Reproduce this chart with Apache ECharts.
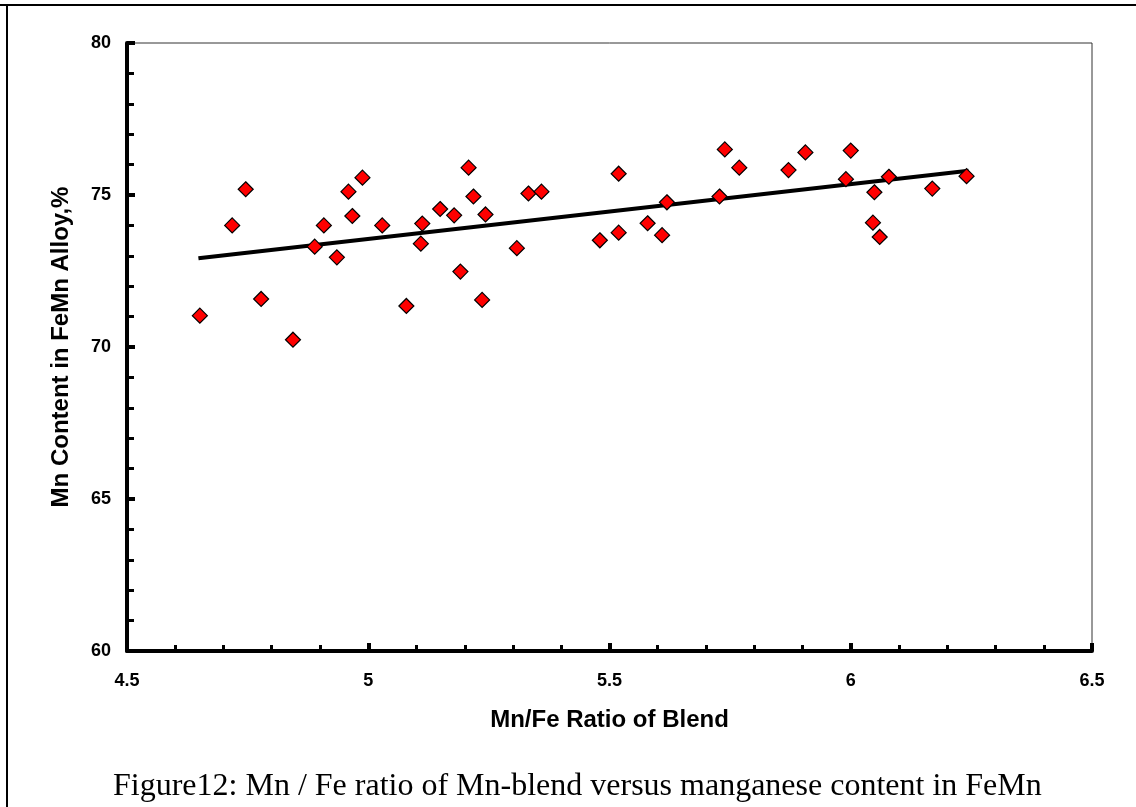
<!DOCTYPE html>
<html>
<head>
<meta charset="utf-8">
<script src="https://cdn.jsdelivr.net/npm/echarts@6/dist/echarts.min.js"></script>
<style>
  html, body { margin: 0; padding: 0; background: #fff; }
  #chart { width: 1136px; height: 807px; }
</style>
</head>
<body>
<div id="chart"></div>
<script>
// Data
const mnFeRatio = [4.651, 4.718, 4.746, 4.778, 4.844, 4.889, 4.908, 4.935, 4.959, 4.967,
  4.988, 5.029, 5.079, 5.109, 5.112, 5.149, 5.178, 5.191, 5.208, 5.218,
  5.236, 5.243, 5.308, 5.332, 5.359, 5.480, 5.519, 5.519, 5.579, 5.609,
  5.619, 5.728, 5.739, 5.769, 5.871, 5.906, 5.990, 6.000, 6.046, 6.049,
  6.060, 6.079, 6.169, 6.240];
const mnContent = [71.03, 74.00, 75.19, 71.58, 70.24, 73.30, 74.00, 72.95, 75.11, 74.31,
  75.57, 74.00, 71.35, 73.40, 74.06, 74.54, 74.33, 72.48, 75.90, 74.95,
  71.55, 74.36, 73.25, 75.05, 75.11, 73.51, 75.70, 73.76, 74.07, 73.68,
  74.76, 74.95, 76.50, 75.90, 75.82, 76.40, 75.52, 76.46, 74.09, 75.09,
  73.62, 75.60, 75.21, 75.62];
const trendX = [4.648, 6.244];
const trendY = [72.92, 75.80];
const xTitle = 'Mn/Fe Ratio of Blend';
const yTitle = 'Mn Content in FeMn Alloy,%';
const caption = 'Figure12: Mn / Fe ratio of Mn-blend versus manganese content in FeMn';

const scatterData = mnFeRatio.map((x, i) => [x, mnContent[i]]);
const trendData = trendX.map((x, i) => [x, trendY[i]]);

const chart = echarts.init(document.getElementById('chart'), null, { renderer: 'canvas' });
const labelFont = { fontFamily: 'Liberation Sans, Arial, sans-serif', fontWeight: 'bold', color: '#000' };

chart.setOption({
  animation: false,
  backgroundColor: '#fff',
  title: {
    text: caption,
    left: 108,
    top: 766,
    textStyle: { fontFamily: 'Liberation Serif, Times New Roman, serif', fontWeight: 'normal', fontSize: 32, color: '#000' }
  },
  graphic: [
    { type: 'line', shape: { x1: 0, y1: 5, x2: 1136, y2: 5 }, style: { stroke: '#000', lineWidth: 2 } },
    { type: 'line', shape: { x1: 7, y1: 5, x2: 7, y2: 807 }, style: { stroke: '#000', lineWidth: 2 } }
  ],
  grid: {
    left: 127, right: 44, top: 43, bottom: 156,
    show: true, borderColor: '#333', borderWidth: 1, backgroundColor: 'transparent'
  },
  xAxis: {
    type: 'value', min: 4.5, max: 6.5, interval: 0.5,
    name: xTitle, nameLocation: 'middle', nameGap: 57,
    nameTextStyle: Object.assign({ fontSize: 24 }, labelFont),
    axisLine: { show: true, onZero: false, lineStyle: { color: '#000', width: 4 } },
    axisTick: { show: true, inside: true, length: 8, lineStyle: { color: '#000', width: 4 } },
    minorTick: { show: true, splitNumber: 5, length: 6, lineStyle: { color: '#000', width: 3 } },
    axisLabel: Object.assign({ fontSize: 18, margin: 21 }, labelFont),
    splitLine: { show: false }, minorSplitLine: { show: false }
  },
  yAxis: {
    type: 'value', min: 60, max: 80, interval: 5,
    name: yTitle, nameLocation: 'middle', nameGap: 54,
    nameTextStyle: Object.assign({ fontSize: 24 }, labelFont),
    axisLine: { show: true, onZero: false, lineStyle: { color: '#000', width: 4 } },
    axisTick: { show: true, inside: true, length: 8, lineStyle: { color: '#000', width: 4 } },
    minorTick: { show: true, splitNumber: 5, length: 7, lineStyle: { color: '#000', width: 3 } },
    axisLabel: Object.assign({ fontSize: 18, margin: 16 }, labelFont),
    splitLine: { show: false }, minorSplitLine: { show: false }
  },
  series: [
    {
      type: 'line', data: trendData, symbol: 'none', z: 2,
      lineStyle: { color: '#000', width: 4 }
    },
    {
      type: 'scatter', data: scatterData, symbol: 'diamond', symbolSize: 15, z: 3,
      itemStyle: { color: '#ff0000', borderColor: '#000', borderWidth: 1.2, opacity: 1 }
    }
  ]
});
</script>
</body>
</html>
